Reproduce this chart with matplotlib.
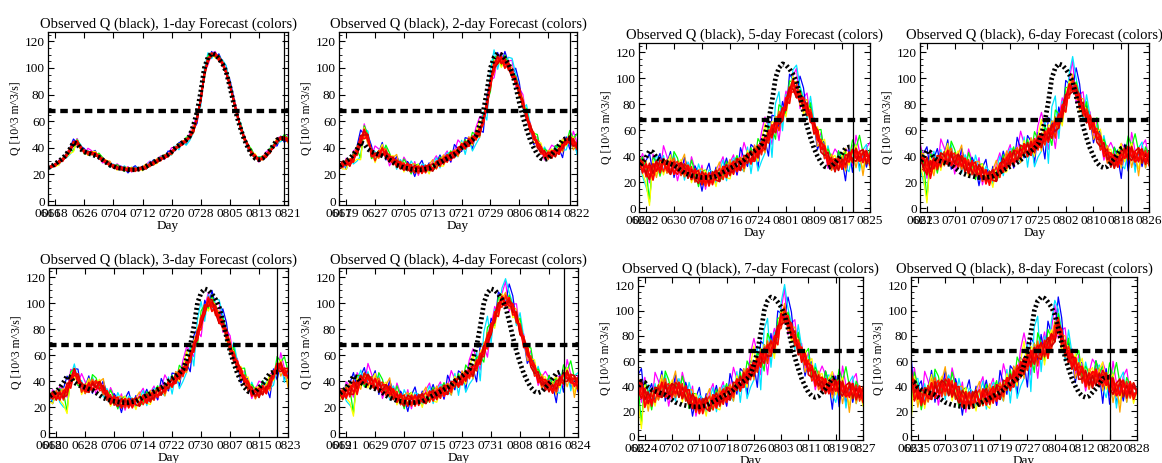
import numpy as np
import matplotlib
matplotlib.use('Agg')
import matplotlib.pyplot as plt
from matplotlib.ticker import MultipleLocator

plt.rcParams['font.family'] = 'serif'
plt.rcParams['font.serif'] = ['Liberation Serif', 'DejaVu Serif']

# ---- data ----
first_date = np.datetime64('2011-06-16')   # day 0
now_day = 65                                # 0820, last observation
threshold = 68.0
n_days = 67

# observed discharge, day 0 (0616) .. day 65 (0820)
obs_q = [25, 26, 28, 30, 32, 35, 39, 44, 43, 39,
         37, 36, 35, 34, 33, 31, 29, 27, 26, 25,
         24.5, 24, 23.5, 23.5, 23.5, 24, 24.5, 26, 27.5, 29,
         30.5, 32, 33.5, 35, 37, 40, 42, 44, 46, 49,
         57, 67, 82, 100, 108, 111, 110, 107, 103, 97,
         86, 74, 63, 54, 46, 40, 35, 32, 31, 32,
         35, 38, 42, 46, 47, 47]

leads = [1, 2, 3, 4, 5, 6, 7, 8]
lead_spread = [0.6, 1.4, 1.8, 2.1, 2.5, 2.7, 3.0, 3.3]

# ensemble-mean forecast per lead, 67 days from the panel start
fc_mean_1 = [25, 26, 27, 29, 31, 34, 38, 43, 44, 40,
             37, 36, 36, 35, 33, 31, 29, 27, 26, 25,
             24.5, 24, 23.5, 23.5, 23.5, 24, 24.5, 25.5, 27, 28.5,
             30, 31.5, 33, 34.5, 36.5, 39, 41.5, 43.5, 45.5, 48,
             53, 62, 76, 95, 106, 110, 110, 107, 103, 97,
             87, 76, 65, 55, 47, 41, 36, 33, 31, 32,
             34, 37, 41, 45, 47, 47, 46]
fc_mean_2 = [26, 27, 28, 29, 32, 37, 45, 51, 47, 36,
             33, 35, 37, 35, 32, 30, 28, 27, 26, 25.5,
             24.5, 24, 23.5, 23.5, 24, 24.5, 25.5, 27, 29, 30.5,
             32, 33.5, 35.5, 37.5, 40, 42, 44, 46, 48.5, 52,
             60, 72, 88, 101, 106, 106, 104, 101, 96, 90,
             82, 73, 64, 55, 48, 43, 38, 35, 34, 35,
             36, 38, 41, 44, 46, 44, 42]
fc_mean_3 = [28, 28, 29, 29, 29, 33, 40, 46, 42, 35,
             34, 35, 36, 37, 36, 33, 29, 26, 25, 24,
             23, 23, 23, 23, 23.5, 24.5, 25.5, 26.5, 27.5, 29,
             31, 33, 34, 36, 39, 42, 45, 47, 52, 58,
             66, 75, 85, 95, 101, 99, 94, 88, 83, 76,
             66, 59, 52, 46, 41, 36, 32, 30, 31, 33,
             34, 38, 44, 50, 51, 48, 46]
fc_mean_4 = [30, 30, 31, 32, 34, 36, 40, 42, 41, 39,
             37.5, 36, 35, 33, 32, 30, 28, 26, 25, 25,
             25, 25, 25.5, 26, 27, 28, 29, 30, 31, 32.5,
             34, 35.5, 37.5, 39.5, 41.5, 44, 46, 48, 52, 57,
             63, 71, 80, 89, 96, 101, 102, 100, 95, 89,
             80, 70, 62, 55, 48, 43, 39, 37, 36, 35,
             36, 39, 42, 44, 43, 40, 38]
fc_mean_5 = [36, 32, 29, 27, 29, 31, 32, 33, 32, 31,
             31, 31, 30, 29, 28, 27, 25, 24, 23, 22,
             22, 23, 24, 25.5, 27, 28.5, 30, 31, 33, 34,
             35.5, 37, 39, 41, 43.5, 46, 50, 55, 59, 63,
             67, 72, 80, 88, 94, 90, 84, 80, 76, 71,
             62, 55, 48, 43, 38, 34, 33, 34, 35, 36,
             38, 40, 41, 41, 40, 39, 38]
fc_mean_6 = [39, 34, 31, 31, 33, 35, 37, 38, 39, 38,
             37, 36, 35, 33, 32, 31, 30, 28, 26, 24,
             23, 24, 26, 29, 33, 36, 38, 39, 41, 43,
             44, 45, 46, 48, 50, 52, 54, 56, 59, 62,
             67, 74, 82, 90, 95, 89, 82, 76, 71, 66,
             61, 56, 50, 45, 40, 37, 36, 37, 39, 41,
             42, 42, 41, 41, 40, 39, 38]
fc_mean_7 = [40, 36, 32, 29, 30, 33, 35, 37, 37, 36,
             36, 37, 37, 36, 34, 31, 28, 25, 24, 24,
             25, 26, 27, 28.5, 30, 31.5, 33, 35, 37, 39.5,
             42, 45, 48, 51, 54, 57, 61, 64, 67, 70,
             74, 82, 92, 97, 90, 84, 78, 71, 65, 60,
             55, 50, 46, 43, 41, 40, 40, 39.5, 39, 38.5,
             38, 37.5, 37, 36, 35, 34, 33]
fc_mean_8 = [44, 38, 33, 31, 32, 34, 36, 37, 38, 38,
             39, 39, 38, 36, 33, 30, 29, 28.5, 29, 30,
             30.5, 31, 31.5, 32, 33, 34.5, 36, 38, 40, 43,
             46, 50, 53, 56, 59, 62, 64, 66, 68, 70,
             72, 75, 82, 88, 78, 70, 65, 60, 56, 52,
             49, 46, 44, 45, 47, 47, 46, 44, 42, 40,
             39, 39, 38, 37, 37, 36, 36]
fc_means = [fc_mean_1, fc_mean_2, fc_mean_3, fc_mean_4,
            fc_mean_5, fc_mean_6, fc_mean_7, fc_mean_8]

# member departures from the mean, by calendar day 0 (0616) .. 73 (0828)
member_anom = [
    [0, 1, -2, 3, -1, 4, 2, -3, 5, 1, -2, 6, 3, -1, 2, -4, 1, 3, -2, 5,
     2, -1, 4, -3, 2, 1, -2, 3, 5, -1, 2, 4, -3, 1, 6, 2, -2, 3, -1, 5,
     8, 3, -4, 2, -6, 1, 4, -2, 3, 7, -3, 2, 5, -1, 3, -2, 4, 1, -3, 2,
     5, 3, -1, 4, 2, -3, 6, 1, -2, 3, 5, -1, 2, 0],
    [1, -1, 2, -3, 1, -2, 3, 6, -1, 2, 4, -2, 1, 5, -3, 2, -1, 4, 1, -2,
     3, 1, -4, 2, 5, -1, 3, -2, 1, 4, -1, 2, -3, 5, 1, -2, 4, 2, -5, 3,
     1, -6, 5, 3, -2, 4, -3, 6, 2, -1, 7, 5, -2, 3, 1, -4, 2, 3, -1, 1,
     -2, 4, 1, -6, 3, -5, 2, -4, 1, -3, 2, -1, 1, 0],
    [-1, 0, 1, -2, 2, -3, -5, -8, 2, 4, -1, 3, -2, 1, 4, -1, 2, -3, 3, 1,
     -2, 4, 1, -1, 3, 2, -2, 1, 4, -3, 1, 3, 2, -1, -3, 4, -5, 2, -6, -4,
     -3, 5, -8, 7, 9, -5, 3, -2, 5, 8, 4, 2, -3, 6, 2, -1, 3, -2, 4, 1,
     -1, 2, 3, -2, -4, 1, 3, -5, 2, 4, -3, 1, -2, 1],
    [0, -1, 1, 2, -1, 3, 1, -9, 4, 2, -3, 1, 2, -2, 5, 3, -1, 2, -2, 4,
     1, -3, 2, 3, -1, 2, 1, -2, -1, 3, -2, 1, 3, -2, 2, -1, 3, -2, 4, 1,
     -2, 3, 1, -4, 5, 2, -3, 4, 1, -2, 3, 1, -2, 4, -1, 2, 5, -1, 3, 2,
     -2, 4, 1, 3, -1, 5, 2, 6, 1, -2, 3, 1, -1, 0],
    [-1, 1, -2, -3, 1, -2, -4, -10, 3, -2, 2, -3, 1, 4, -2, 1, 3, -1, 2, -3,
     1, 2, -1, 3, -2, 1, -3, 2, 1, -2, -3, 1, -2, 2, -1, 3, -2, 1, -3, 2,
     6, -2, 3, 1, -3, 2, -4, 1, 3, -2, 2, -3, 1, 2, -2, 3, 1, 4, -1, 2,
     3, -1, 2, 4, -2, 1, 3, -1, -4, 2, -2, 1, -3, 0],
    [1, 0, -1, 2, -2, 1, 3, -2, 1, -3, 2, 1, -2, 3, 1, -1, 2, 5, -2, 1,
     -1, 2, 3, -2, 1, -1, 2, 4, -2, 1, 3, -2, 1, 2, -3, 1, -2, 3, -1, 2,
     -3, 2, -2, 3, 1, -2, 2, -3, 1, 3, -2, 1, 3, -1, 2, -3, 1, 2, -2, 3,
     1, -2, 2, -3, 1, 2, -4, 1, -6, 2, -3, 1, 2, 0],
    [0, 1, 1, -1, 2, -1, 2, 1, -2, 1, -1, 2, -2, 1, 3, -1, 1, -2, 2, 1,
     -1, 1, -2, 2, 1, -1, 2, -1, 1, -2, 2, -1, 1, 2, -1, 1, -2, 1, 2, -1,
     -2, 1, 2, -1, 3, -2, 1, 2, -1, 1, 2, -1, 1, -2, 2, 1, -1, 2, 1, -2,
     1, 2, -1, 1, 2, -1, 1, -2, 2, 1, -1, 2, -1, 0],
    [0, -1, 1, 0, -1, 2, -2, 1, 2, -1, 1, -2, 2, -1, 1, 2, -2, 1, -1, 2,
     -2, 1, 1, -2, 2, -1, 1, 2, -2, 1, -1, 2, -1, 1, -2, 2, 1, -1, 2, -2,
     1, -2, 1, 2, -3, 2, -1, 1, -2, 2, -1, 1, -2, 2, 1, -1, 2, -2, 1, -1,
     2, -1, 1, -2, 1, 2, -1, -2, 1, -1, 2, -2, 1, 0],
    [1, 0, -1, 1, 1, -2, 2, -1, 1, 2, -2, 1, -1, 2, -2, 1, 2, -1, 1, -2,
     2, -1, -1, 2, -2, 1, 2, -1, 1, -2, 1, -2, 2, 1, -1, 2, -2, 1, -1, 2,
     -1, 2, -2, 1, 2, -1, 1, -3, 2, -1, 2, -2, 1, -1, 2, -1, 1, 2, -2, 1,
     -1, 2, -2, 1, -1, 2, 1, -2, -1, 2, -1, 1, -2, 0],
    [-1, 0, 2, -1, 1, 1, -1, -2, 2, -1, 2, 1, -1, -2, 2, -1, -1, 2, 1, -2,
     1, 2, -2, 1, -1, 2, -1, -2, 2, 1, -2, 1, -1, -2, 2, 1, -1, 2, -2, 1,
     2, -1, 1, -2, 1, 2, -2, 1, 2, -2, 1, 2, -1, 1, -2, 2, -1, 1, -1, 2,
     -2, 1, -1, 2, 1, -2, 2, -1, 1, 2, -2, 1, 1, 0],
    [0, 1, -1, 2, -2, 1, -1, 3, -1, 2, -1, 2, 1, -2, 1, -1, 2, 1, -2, 1,
     -1, -2, 2, 1, -1, 1, 2, -2, 1, 2, -1, -1, 2, -2, 1, -1, 2, -2, 1, 1,
     -2, 1, -1, 2, -1, -2, 1, 2, -1, -2, 1, -1, 2, -2, 1, 2, -2, -1, 2, -1,
     1, -2, 1, -1, 2, -1, -2, 1, 2, -2, 1, -1, 2, 0],
    [1, -1, 0, 1, -1, -1, 1, 2, -3, 1, -1, 1, -1, 2, -1, -2, 1, -1, 2, -1,
     2, -1, 1, -1, 2, -2, 1, -1, 2, -1, 1, 2, -2, 1, -1, 2, -1, -2, 1, -1,
     2, -1, 2, -1, 1, -1, 2, -1, 1, -1, -1, 2, -1, 1, -1, 2, -1, 2, -1, 1,
     2, 1, -2, 1, -1, 2, -1, 1, -2, 1, -1, 2, -1, 0],
]
member_colors = ['#ff00ff', '#0000ff', '#00e5ff', '#00ff00', '#ffff00', '#ffa500',
                 '#ff6000', '#ff2000', '#ff0000', '#e80000', '#d20000', '#ff0000']
member_width = [0.9, 0.9, 0.9, 0.9, 0.9, 0.9, 1.1, 1.1, 1.2, 1.2, 1.2, 1.2]

# panel boxes in pixels: left, top, right, bottom
W, H = 1162, 463
boxes = [(48, 32, 288, 205), (339, 32, 577, 205),
         (49, 268, 288, 437), (339, 268, 578, 437),
         (639, 43, 870, 212), (920, 43, 1149, 212),
         (638, 277, 863, 440), (911, 277, 1137, 440)]

fig = plt.figure(figsize=(W / 100, H / 100), dpi=100)
obs = np.array(obs_q, dtype=float)
anom = np.array(member_anom, dtype=float)
x = np.arange(n_days)

for lead, spread, mean, (l, t, r, b) in zip(leads, lead_spread, fc_means, boxes):
    ax = fig.add_axes([l / W, 1 - b / H, (r - l) / W, (b - t) / H])
    s = lead - 1
    mean = np.array(mean, dtype=float)
    for m in range(len(member_anom)):
        ax.plot(x, mean + spread * anom[m, s:s + n_days],
                color=member_colors[m], lw=member_width[m])
    days_obs = np.arange(len(obs)) - s
    ax.plot(days_obs, obs, color='black', lw=3.4, dashes=(0.45, 0.55))
    ax.axhline(threshold, color='black', lw=3.1, dashes=(1.75, 1.1))
    ax.axvline(now_day - s, color='black', lw=0.9)

    ax.set_xlim(0, n_days - 1)
    ax.set_ylim(-3, 127)
    ticks = [0] + list(range(2, n_days, 8))
    labels = [(first_date + np.timedelta64(s + k, 'D')).astype(object).strftime('%m%d')
              for k in ticks]
    ax.set_xticks(ticks)
    ax.set_xticklabels(labels, fontsize=9.5)
    ax.set_yticks(range(0, 121, 20))
    ax.yaxis.set_minor_locator(MultipleLocator(5))
    ax.tick_params(axis='y', labelsize=9.5)
    ax.tick_params(which='both', direction='in', top=True, right=True)
    ax.tick_params(which='major', length=4, width=0.8, pad=2)
    ax.tick_params(which='minor', length=2, width=0.6)
    for sp in ax.spines.values():
        sp.set_linewidth(0.9)
    ax.set_xlabel('Day', fontsize=9.5, labelpad=0)
    ax.set_ylabel('Q [10^3 m^3/s]', fontsize=8.5, labelpad=2)
    ax.set_title('Observed Q (black), %d-day Forecast (colors)' % lead, fontsize=10.5, pad=3)

fig.savefig('out.png', dpi=100)
